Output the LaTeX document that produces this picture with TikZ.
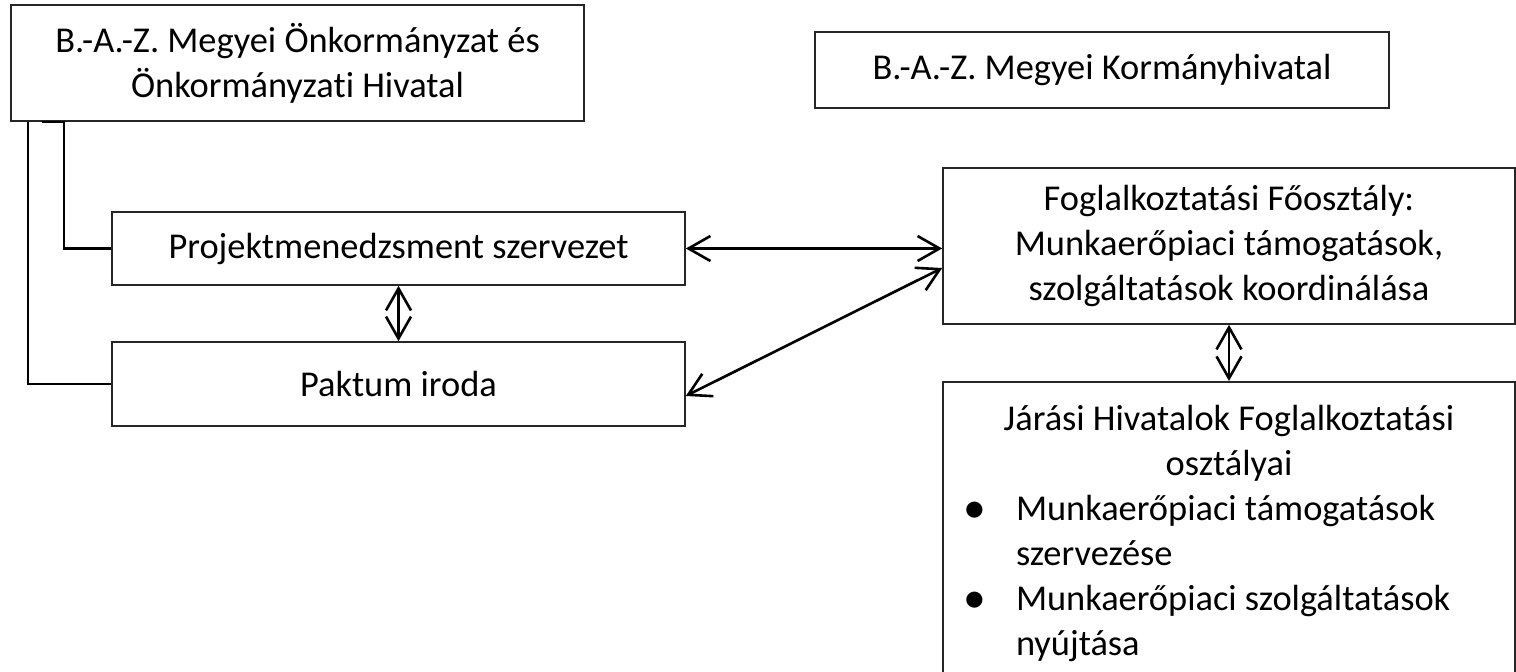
\documentclass[tikz,border=0pt]{standalone}
\usepackage{fontspec}
\setmainfont{Carlito}[Ligatures=NoCommon]
\usetikzlibrary{arrows.meta}
\usetikzlibrary{calc}

\tikzset{
  unit/.style={draw=black!85, line width=0.8pt, rectangle, align=center,
    minimum width=286.5pt, inner sep=0pt},
  link/.style={line width=1.2pt},
  both/.style={<->, line width=1.3pt},
}
\newcommand{\bigdot}{\makebox[0pt]{\fontsize{20}{20}\selectfont$\bullet$}}

\begin{document}
\begin{tikzpicture}[x=0.5pt, y=-0.5pt, >={Straight Barb[length=11pt,width=12.5pt]},
    every node/.style={font=\fontsize{18.2}{22.4}\selectfont}]
  \useasboundingbox (0,0) rectangle (1516,672);

  % left side: county council
  \node [unit, minimum height=58pt] (onkorm) at (297.5,63)
  {B.-A.-Z. Megyei Önkormányzat és\\ Önkormányzati Hivatal};

  \node [unit, minimum height=36.5pt] (projekt) at (398.5,248.5)
  {Projektmenedzsment szervezet};

  \node [unit, minimum height=42pt] (paktum) at (398.5,384) {Paktum iroda};

  % right side: government office
  \node [unit, minimum width=287pt, minimum height=38pt] (kormany) at (1102,70)
  {B.-A.-Z. Megyei Kormányhivatal};

  \node [unit, minimum width=286pt, minimum height=78pt] (fooszt) at (1229,246)
  {Foglalkoztatási Főosztály:\\ Munkaerőpiaci támogatások,\\ szolgáltatások koordinálása};

  \node [unit, minimum width=286pt, inner ysep=11.5pt, anchor=north] (jarasi) at (1229,381)
  {\parbox[t][160pt][t]{286pt}{%
      \fontsize{18.2}{22.5}\selectfont
      {\centering Járási Hivatalok Foglalkoztatási\\ osztályai\par}
      \leftskip=36.5pt
      \noindent\llap{\bigdot\hspace{20.5pt}}Munkaerőpiaci támogatások\\ szervezése\par
      \noindent\llap{\bigdot\hspace{20.5pt}}Munkaerőpiaci szolgáltatások\\ nyújtása\par}};

  \draw [link] ($(onkorm.south west)+(18,0)$) |- (paktum.west);
  \draw [link] ($(onkorm.south west)+(32,0)$) -- ++(22,0) |- (projekt.west);

  \draw [both] (projekt.east) -- (projekt.east -| fooszt.west);
  \draw [both] ($(paktum.east)+(0,12)$) -- ($(fooszt.west)+(0,22)$);
  \draw [both] (projekt.south) -- (paktum.north); % pm <-> paktum
  \draw [both] (fooszt.south) -- (jarasi.north);

\end{tikzpicture}
\end{document}
